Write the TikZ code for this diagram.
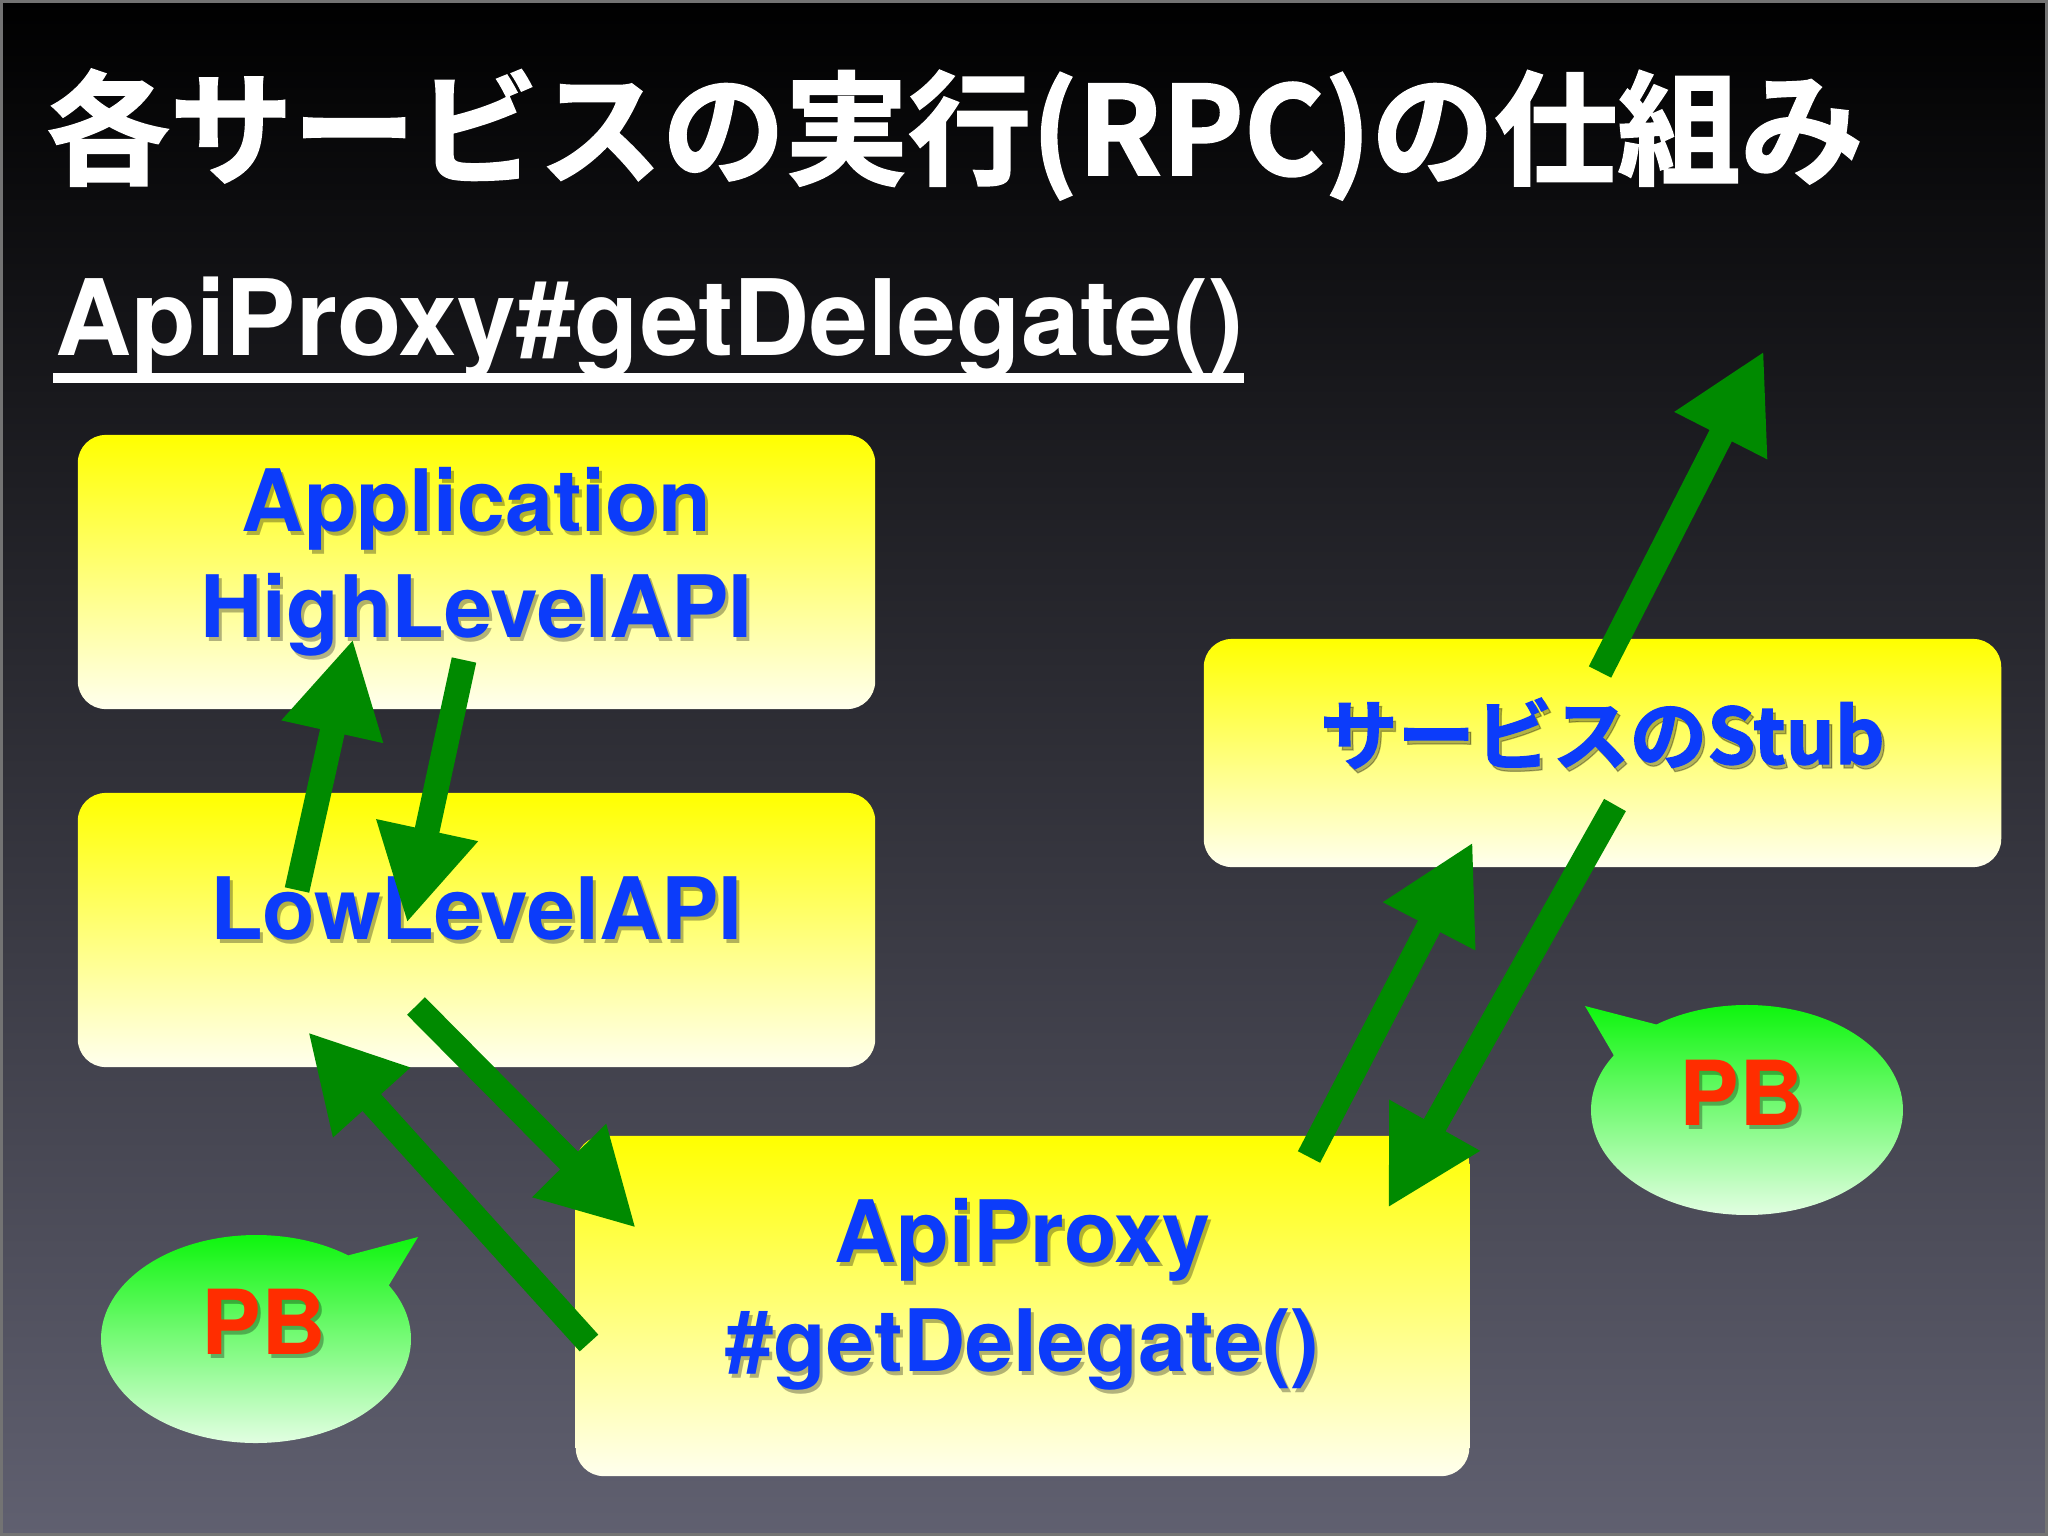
\documentclass[tikz,border=0pt]{standalone}
\usepackage{fontspec}
\setmainfont{TeX Gyre Heros}
\newfontfamily\jpfont{Noto Sans CJK JP}[BoldFont={Noto Sans CJK JP Bold}, BoldFeatures={FakeBold=1.6}]
\usetikzlibrary{arrows.meta}
\tikzset{>=Stealth}
\definecolor{flowgreen}{RGB}{0,138,0}
\definecolor{apiblue}{RGB}{12,60,250}
\definecolor{pbred}{RGB}{255,45,0}
\definecolor{slatebot}{RGB}{96,96,112}
\definecolor{slatemid}{RGB}{26,26,44}
\definecolor{paleyellow}{RGB}{255,255,238}
\definecolor{bubblegreen}{RGB}{0,245,0}
\definecolor{palegreen}{RGB}{240,255,240}

% text with a soft drop shadow: style, name, at, dx, dy, text
\newcommand{\shadowtext}[6]{%
  \node[#1, text=black, opacity=.3, shift={(#4+3,#5+4)}] at (#3) {#6};
  \node[#1, shift={(#4,#5)}] (#2) at (#3) {#6};}

\begin{document}
\begin{tikzpicture}[x=0.01cm, y=-0.01cm,
    box/.style={rounded corners=0.28cm, top color=yellow, bottom color=paleyellow, inner sep=0pt},
    boxtxt/.style={anchor=base, inner sep=0pt, text=apiblue, font=\bfseries\fontsize{24.5}{29}\selectfont},
    jptxt/.style={boxtxt, font=\jpfont\bfseries\fontsize{22}{27}\selectfont},
    pbtxt/.style={anchor=base, inner sep=0pt, text=pbred, font=\bfseries\fontsize{25.5}{30}\selectfont},
    bubble/.style={top color=bubblegreen, bottom color=palegreen},
    flow/.style={draw=flowgreen, line width=0.25cm, -{Triangle[length=0.95cm, width=0.97cm]}}]
                % slide background
                \useasboundingbox (0,0) rectangle (2048,1536);
                \shade[top color=black, middle color=slatemid, bottom color=slatebot] (0,0) rectangle (2048,1536);
                \draw[black!55, line width=0.03cm] (1.5,1.5) rectangle (2046.5,1534.5);
                % headings
                \node[anchor=base west, inner sep=0pt, text=white, font=\jpfont\bfseries\fontsize{35}{42}\selectfont]
                    (title) at (46,175) {各サービスの実行(RPC)の仕組み};
                \node[anchor=base west, inner sep=0pt, text=white, font=\bfseries\fontsize{30}{36}\selectfont]
                    (sub) at (55,355) {ApiProxy\#getDelegate()};
                \draw[white, line width=0.1cm] ([shift={(-2,23)}]sub.base west) -- ([shift={(0,23)}]sub.base east);
                % layers
                \node[box, minimum width=7.97cm, minimum height=2.74cm] (app) at (476.5,572) {};
                \node[box, minimum width=7.97cm, minimum height=2.74cm] (low) at (476.5,930) {};
                \node[box, minimum width=7.97cm, minimum height=2.28cm] (stub) at (1602.5,753) {};
                \node[box, minimum width=8.93cm, minimum height=3.40cm] (proxy) at (1022.5,1306) {};
                \shadowtext{boxtxt}{apptxt}{app.center}{0}{-41}{Application}
                \shadowtext{boxtxt}{hightxt}{app.center}{0}{65}{HighLevelAPI}
                \shadowtext{boxtxt}{lowtxt}{low.center}{0}{9}{LowLevelAPI}
                \shadowtext{jptxt}{stubtxt}{stub.center}{0}{11}{サービスのStub}
                \shadowtext{boxtxt}{proxytxt}{proxy.center}{0}{-44}{ApiProxy}
                \shadowtext{boxtxt}{delegtxt}{proxy.center}{0}{65}{\#getDelegate()}
                % PB speech bubbles
                \coordinate (pbl) at (256,1339);
                \coordinate (pbr) at (1747,1110);
                \shade[bubble] (389,1285) -- (418,1237) -- (348.2,1255.4)
                    arc[start angle=-53.5, end angle=-391, x radius=155, y radius=104] -- cycle;
                \shade[bubble] (1613.8,1055.3) -- (1585,1006) -- (1656.4,1024.5)
                    arc[start angle=-125.5, end angle=211.4, x radius=156, y radius=105] -- cycle;
                \shadowtext{pbtxt}{pbleft}{pbl}{8}{15}{PB}
                \shadowtext{pbtxt}{pbright}{pbr}{-5}{15}{PB}
                % calls between the layers
                \coordinate (remote) at (1764,351);
                \draw[flow] ([shift={(-179.5,-40)}]low.center) -- ([shift={(-123.5,67)}]app.center);
                \draw[flow] ([shift={(-12.5,88)}]app.center) -- ([shift={(-69.5,-7)}]low.center);
                \draw[flow] ([shift={(-60.5,76)}]low.center) -- ([shift={(-386.5,-78)}]proxy.center);
                \draw[flow] ([shift={(-433.5,37)}]proxy.center) -- ([shift={(-168.5,102)}]low.center);
                \draw[flow] ([shift={(286.5,-149)}]proxy.center) -- ([shift={(-129.5,89)}]stub.center);
                \draw[flow] ([shift={(12.5,52)}]stub.center) -- ([shift={(365.5,-98)}]proxy.center);
                \draw[flow] ([shift={(-2.5,-81)}]stub.center) -- (remote);
\end{tikzpicture}
\end{document}
